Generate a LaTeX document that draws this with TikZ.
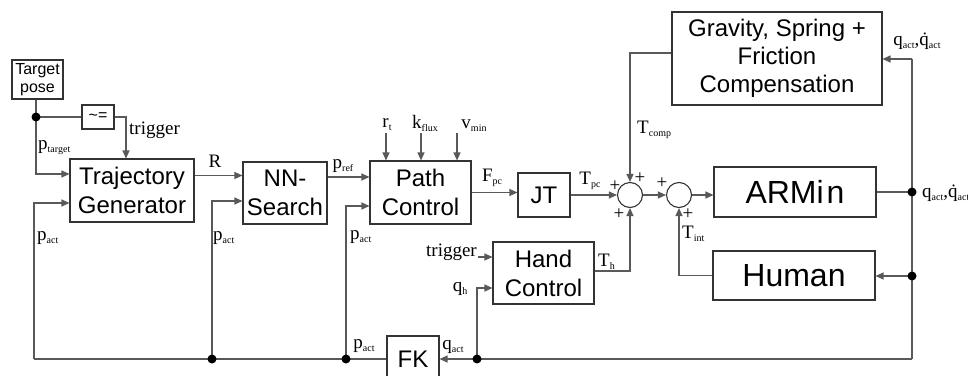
\documentclass[tikz,border=0pt]{standalone}
\usepackage{fontspec}
\setmainfont{Liberation Sans}
\newfontfamily\labfont{Liberation Serif}
\usetikzlibrary{arrows.meta}
\newcommand\lb[2]{{\labfont\fontsize{19}{19}\selectfont #1\raisebox{-3pt}{\fontsize{10}{10}\selectfont #2}}}
\newcommand\qqd{\lb{q}{act}{\labfont\fontsize{19}{19}\selectfont,}\lb{q^^^^0307}{act}}
\begin{document}
\begin{tikzpicture}[x=1pt,y=-1pt,
  box/.style={draw=black!80, line width=1.1pt, inner sep=0pt, align=center, font=\fontsize{24}{29}\selectfont},
  bigbox/.style={box, font=\fontsize{32}{34}\selectfont},
  smallbox/.style={box, font=\fontsize{16}{18}\selectfont},
  conn/.style={draw=black!65, line width=1.2pt},
  arr/.style={conn, -{Triangle[length=8pt,width=7pt]}},
  junc/.style={circle, fill=black, inner sep=0pt, minimum size=9pt},
  sumc/.style={circle, draw=black!80, line width=1.1pt, minimum size=25pt, inner sep=0pt},
  lab/.style={inner sep=0pt},
  plus/.style={inner sep=0pt, font=\labfont\fontsize{19}{19}\selectfont}]
\useasboundingbox (0,0) rectangle (968,375);

% blocks
\node[smallbox, minimum width=51pt, minimum height=39pt] (tp) at (37.5,79.5) {Target\\pose};
\node[smallbox, minimum width=32pt, minimum height=24pt] (neq) at (98,117) {\raisebox{1pt}{\textasciitilde=}};
\node[box, minimum width=124pt, minimum height=63pt] (traj) at (132,190.5) {Trajectory\\Generator};
\node[box, minimum width=84pt, minimum height=62pt] (nn) at (285,193) {NN-\\Search};
\node[box, minimum width=101pt, minimum height=63pt] (pc) at (420.5,192.5) {Path\\Control};
\node[box, minimum width=52pt, minimum height=44pt] (jt) at (544,195) {JT};
\node[sumc] (s1) at (630,195) {};
\node[sumc] (s2) at (679,195) {};
\node[bigbox, minimum width=162pt, minimum height=50pt] (armin) at (795,192) {ARMi\kern3pt n};
\node[box, minimum width=210pt, minimum height=93pt, font=\fontsize{24}{28}\selectfont] (grav) at (777,58.5) {Gravity, Spring +\\Friction\\Compensation};
\node[bigbox, minimum width=162pt, minimum height=49pt] (human) at (794,275.5) {Human};
\node[box, minimum width=101pt, minimum height=62pt] (hand) at (543.5,273) {Hand\\Control};
\node[box, minimum width=52pt, minimum height=46pt] (fk) at (413,359) {FK};

% junctions and free ends
\coordinate (dot1) at (36,117);
\coordinate (rtop) at (912,59);
\coordinate (dA) at (912,192);
\coordinate (dH) at (912,276);
\coordinate (rbot) at (912,359);
\coordinate (dq) at (477,359);
\coordinate (dP2) at (346,359);
\coordinate (dP1) at (212,359);
\coordinate (cBL) at (34,359);
\coordinate (tg) at (478,257);
\coordinate (rt) at (386,133);
\coordinate (kf) at (421,133);
\coordinate (vm) at (457,133);

% connectors
\draw[conn] (dot1) -- (dot1 |- tp.south);
\draw[conn] (dot1) -- (neq.west);
\draw[arr] (neq.east) -| ([xshift=-6pt]traj.north);
\draw[arr] (dot1) |- ([yshift=16.5pt]traj.west);
\draw[arr] ([yshift=15pt]traj.east) coordinate (rA) -- (rA -| nn.west);
\draw[arr] ([yshift=16pt]nn.east) coordinate (pA) -- (pA -| pc.west);
\draw[arr] (rt) -- (rt |- pc.north);
\draw[arr] (kf) -- (kf |- pc.north);
\draw[arr] (vm) -- (vm |- pc.north);
\draw[arr] (pc.east) -- (pc.east -| jt.west);
\draw[arr] (jt.east) -- (s1.west);
\draw[arr] ([yshift=5.5pt]grav.west) -| (s1.north);
\draw[arr] (s1.east) -- (s2.west);
\draw[arr] (s2.east) -- (s2.east -| armin.west);
\draw[conn] (armin.east) -- (dA);
\draw[conn] (rtop) -- (rbot);
\draw[arr] (rtop) -- (rtop -| grav.east);
\draw[arr] (dH) -- (dH -| human.east);
\draw[arr] (human.west) -| (s2.south);
\draw[arr] ([yshift=2pt]hand.east) -| (s1.south);
\draw[arr] (tg) -- (tg -| hand.west);
\draw[arr] (dq) |- ([yshift=-15pt]hand.west);
\draw[arr] (rbot) -- (rbot -| fk.east);
\draw[conn] (fk.west) -- (dP2) -- (dP1) -- (cBL);
\draw[arr] (cBL) |- ([yshift=-12.5pt]traj.west);
\draw[arr] (dP1) |- ([yshift=-8pt]nn.west);
\draw[arr] (dP2) |- ([yshift=-13.5pt]pc.west);

% dots
\foreach \p in {dot1,dA,dH,dq,dP2,dP1} \node[junc] at (\p) {};

% labels
\node[lab, anchor=west] (Lptar) at (38,148) {\lb{p}{target}};
\node[lab, anchor=west] (Ltrig1) at (129,130) {\labfont\fontsize{19}{19}\selectfont trigger};
\node[lab, anchor=west] (Lpa1) at (37,238) {\lb{p}{act}};
\node[lab] (LR) at (215,161) {\labfont\fontsize{19}{19}\selectfont R};
\node[lab, anchor=west] (Lpa2) at (213,238) {\lb{p}{act}};
\node[lab] (Lpref) at (343,166) {\lb{p}{ref}};
\node[lab] (Lrt) at (387,125) {\lb{r}{t}};
\node[lab] (Lkf) at (425,123) {\lb{k}{flux}};
\node[lab] (Lvm) at (474,126) {\lb{v}{min}};
\node[lab, anchor=west] (Lpa3) at (350,237) {\lb{p}{act}};
\node[lab] (Lfpc) at (492,178) {\lb{F}{pc}};
\node[lab] (Ltpc) at (590,181) {\lb{T}{pc}};
\node[lab, anchor=west] (Ltc) at (637,130) {\lb{T}{comp}};
\node[lab, anchor=west] (Ltint) at (682,234) {\lb{T}{int}};
\node[lab, anchor=west] (Lth) at (598,262) {\lb{T}{h}};
\node[lab, anchor=base east] (Ltrig2) at (477,256) {\labfont\fontsize{19}{19}\selectfont trigger};
\node[lab] (Lqh) at (460,289) {\lb{q}{h}};
\node[lab] (Lqa) at (453,347) {\lb{q}{act}};
\node[lab] (Lpa4) at (364,346) {\lb{p}{act}};
\node[lab] (Lqq1) at (917,41) {\qqd};
\node[lab, anchor=west] (Lqq2) at (922,193) {\qqd};

% plus signs
\node[plus] at (615,186) {+};
\node[plus] at (640,178) {+};
\node[plus] at (619,214) {+};
\node[plus] at (662,183) {+};
\node[plus] at (688,214) {+};
\end{tikzpicture}
\end{document}
